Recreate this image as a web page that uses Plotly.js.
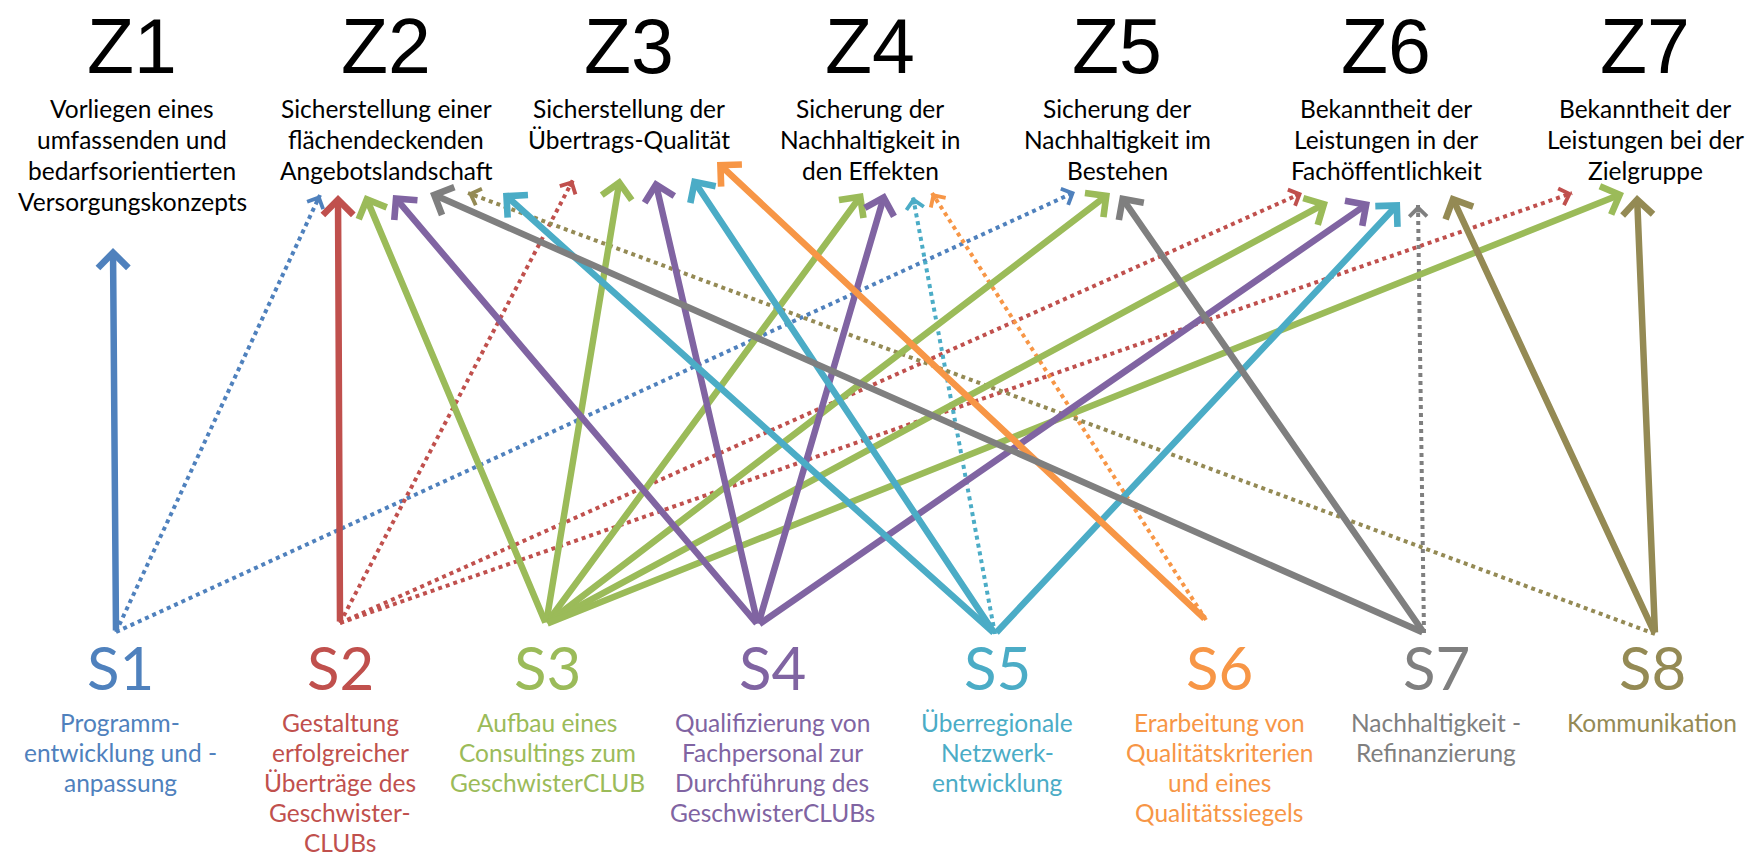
<!DOCTYPE html>
<html><head><meta charset="utf-8">
<script src="https://cdn.plot.ly/plotly-3.0.1.min.js"></script>
<style>html,body{margin:0;padding:0;background:#fff}#chart{width:1764px;height:858px}</style>
</head><body><div id="chart"></div>
<script>
// ---- data ----
const goalLabels = ['Z1','Z2','Z3','Z4','Z5','Z6','Z7'];
const goalTexts = [
  ['Vorliegen eines','umfassenden und','bedarfsorientierten','Versorgungskonzepts'],
  ['Sicherstellung einer','flächendeckenden','Angebotslandschaft'],
  ['Sicherstellung der','Übertrags-Qualität'],
  ['Sicherung der','Nachhaltigkeit in','den Effekten'],
  ['Sicherung der','Nachhaltigkeit im','Bestehen'],
  ['Bekanntheit der','Leistungen in der','Fachöffentlichkeit'],
  ['Bekanntheit der','Leistungen bei der','Zielgruppe']
];
const strategyLabels = ['S1','S2','S3','S4','S5','S6','S7','S8'];
const strategyTexts = [
  ['Programm-','entwicklung und -','anpassung'],
  ['Gestaltung','erfolgreicher','Überträge des','Geschwister-','CLUBs'],
  ['Aufbau eines','Consultings zum','GeschwisterCLUB'],
  ['Qualifizierung von','Fachpersonal zur','Durchführung des','GeschwisterCLUBs'],
  ['Überregionale','Netzwerk-','entwicklung'],
  ['Erarbeitung von','Qualitätskriterien','und eines','Qualitätssiegels'],
  ['Nachhaltigkeit -','Refinanzierung'],
  ['Kommunikation']
];
// links: strategy index -> goal index, dotted = indirect effect
const linkFrom   = [0,0,0, 1,1,1,1, 2,2,2,2,2,2, 3,3,3,3, 4,4,4,4, 5,5, 6,6,6, 7,7,7];
const linkTo     = [0,1,4, 1,2,5,6, 1,2,3,4,5,6, 1,2,3,5, 1,2,3,5, 2,3, 1,4,5, 1,5,6];
const linkDotted = [0,1,1, 0,1,1,1, 0,0,0,0,0,0, 0,0,0,0, 0,0,1,0, 0,1, 0,0,1, 1,0,0];

// ---- styles & geometry (pixel space) ----
const strategyColors = ['#4F81BD','#C0504D','#9BBB59','#8064A2','#4BACC6','#F79646','#7F7F7F','#948A54'];
const W = 1764, H = 858;
const geo = {
  goalX: [132,386,629,870,1117,1386,1645],
  goalLabelTop: 0.5, goalTextY: 108, goalGap: 31,
  stratX: [120,340,547,772,997,1219,1436,1652],
  stratLabelY: 667, stratTextY: 722, stratGap: 30,
  origin: [[116,632],[340,623],[546,624],[758,625],[995,634],[1206,620],[1424,633],[1655,634]],
  tipX: [113,320,1075, 338,573,1302,1572, 365,620,863,1110,1328,1624, 393,655,885,1370, 503,692,913,1400, 717,932, 430,1120,1418, 468,1451,1637],
  tipY: [248,195,192, 195,180,193,193, 195,178,193,193,202,193, 195,180,193,202, 193,178,197,202, 162,193, 193,195,205, 193,195,195]
};
const FONT = 'Lato, "Open Sans", sans-serif';
const BIG = '"Liberation Sans", Arial, sans-serif';
const solidW = 6.5, dotW = 4;

const traces = [];
const annotations = [];

// arrows
linkFrom.forEach((s, i) => {
  const color = strategyColors[s];
  const [sx, sy] = geo.origin[s];
  const tx = geo.tipX[i], ty = geo.tipY[i];
  if (linkDotted[i]) {
    traces.push({
      type: 'scatter', mode: 'lines', x: [sx, tx], y: [sy, ty],
      line: {color: color, width: dotW, dash: 'dot'}, hoverinfo: 'skip', showlegend: false
    });
    const dx = sx - tx, dy = sy - ty, len = Math.hypot(dx, dy);
    annotations.push({
      x: tx, y: ty, xref: 'x', yref: 'y', text: '', showarrow: true,
      ax: dx / len * 26, ay: dy / len * 26, startstandoff: 17,
      arrowhead: 4, arrowsize: 0.85, arrowwidth: dotW, arrowcolor: color, standoff: 0
    });
  } else {
    annotations.push({
      x: tx, y: ty, xref: 'x', yref: 'y', axref: 'x', ayref: 'y', ax: sx, ay: sy,
      text: '', showarrow: true, arrowhead: 4, arrowsize: 0.9, arrowwidth: solidW,
      arrowcolor: color, standoff: 0
    });
  }
});

// goal labels
goalLabels.forEach((g, i) => {
  annotations.push({x: geo.goalX[i], y: geo.goalLabelTop, xref: 'x', yref: 'y', text: g, showarrow: false,
    xanchor: 'center', yanchor: 'top', font: {family: BIG, size: 77, color: '#000'}});
  goalTexts[i].forEach((ln, j) => {
    annotations.push({x: geo.goalX[i], y: geo.goalTextY + j * geo.goalGap, xref: 'x', yref: 'y', text: ln,
      showarrow: false, xanchor: 'center', yanchor: 'middle', font: {family: FONT, size: 24.5, color: '#000'}});
  });
});
// strategy labels
strategyLabels.forEach((s, i) => {
  const c = strategyColors[i];
  annotations.push({x: geo.stratX[i], y: geo.stratLabelY, xref: 'x', yref: 'y', text: s, showarrow: false,
    xanchor: 'center', yanchor: 'middle', font: {family: FONT, size: 60, color: c}});
  strategyTexts[i].forEach((ln, j) => {
    annotations.push({x: geo.stratX[i], y: geo.stratTextY + j * geo.stratGap, xref: 'x', yref: 'y', text: ln,
      showarrow: false, xanchor: 'center', yanchor: 'middle', font: {family: FONT, size: 24.5, color: c}});
  });
});

const layout = {
  width: W, height: H, margin: {l: 0, r: 0, t: 0, b: 0},
  paper_bgcolor: '#fff', plot_bgcolor: '#fff', showlegend: false,
  xaxis: {range: [0, W], visible: false, fixedrange: true},
  yaxis: {range: [H, 0], visible: false, fixedrange: true},
  annotations: annotations
};
Plotly.newPlot('chart', traces, layout, {staticPlot: true, displayModeBar: false});
</script></body></html>
